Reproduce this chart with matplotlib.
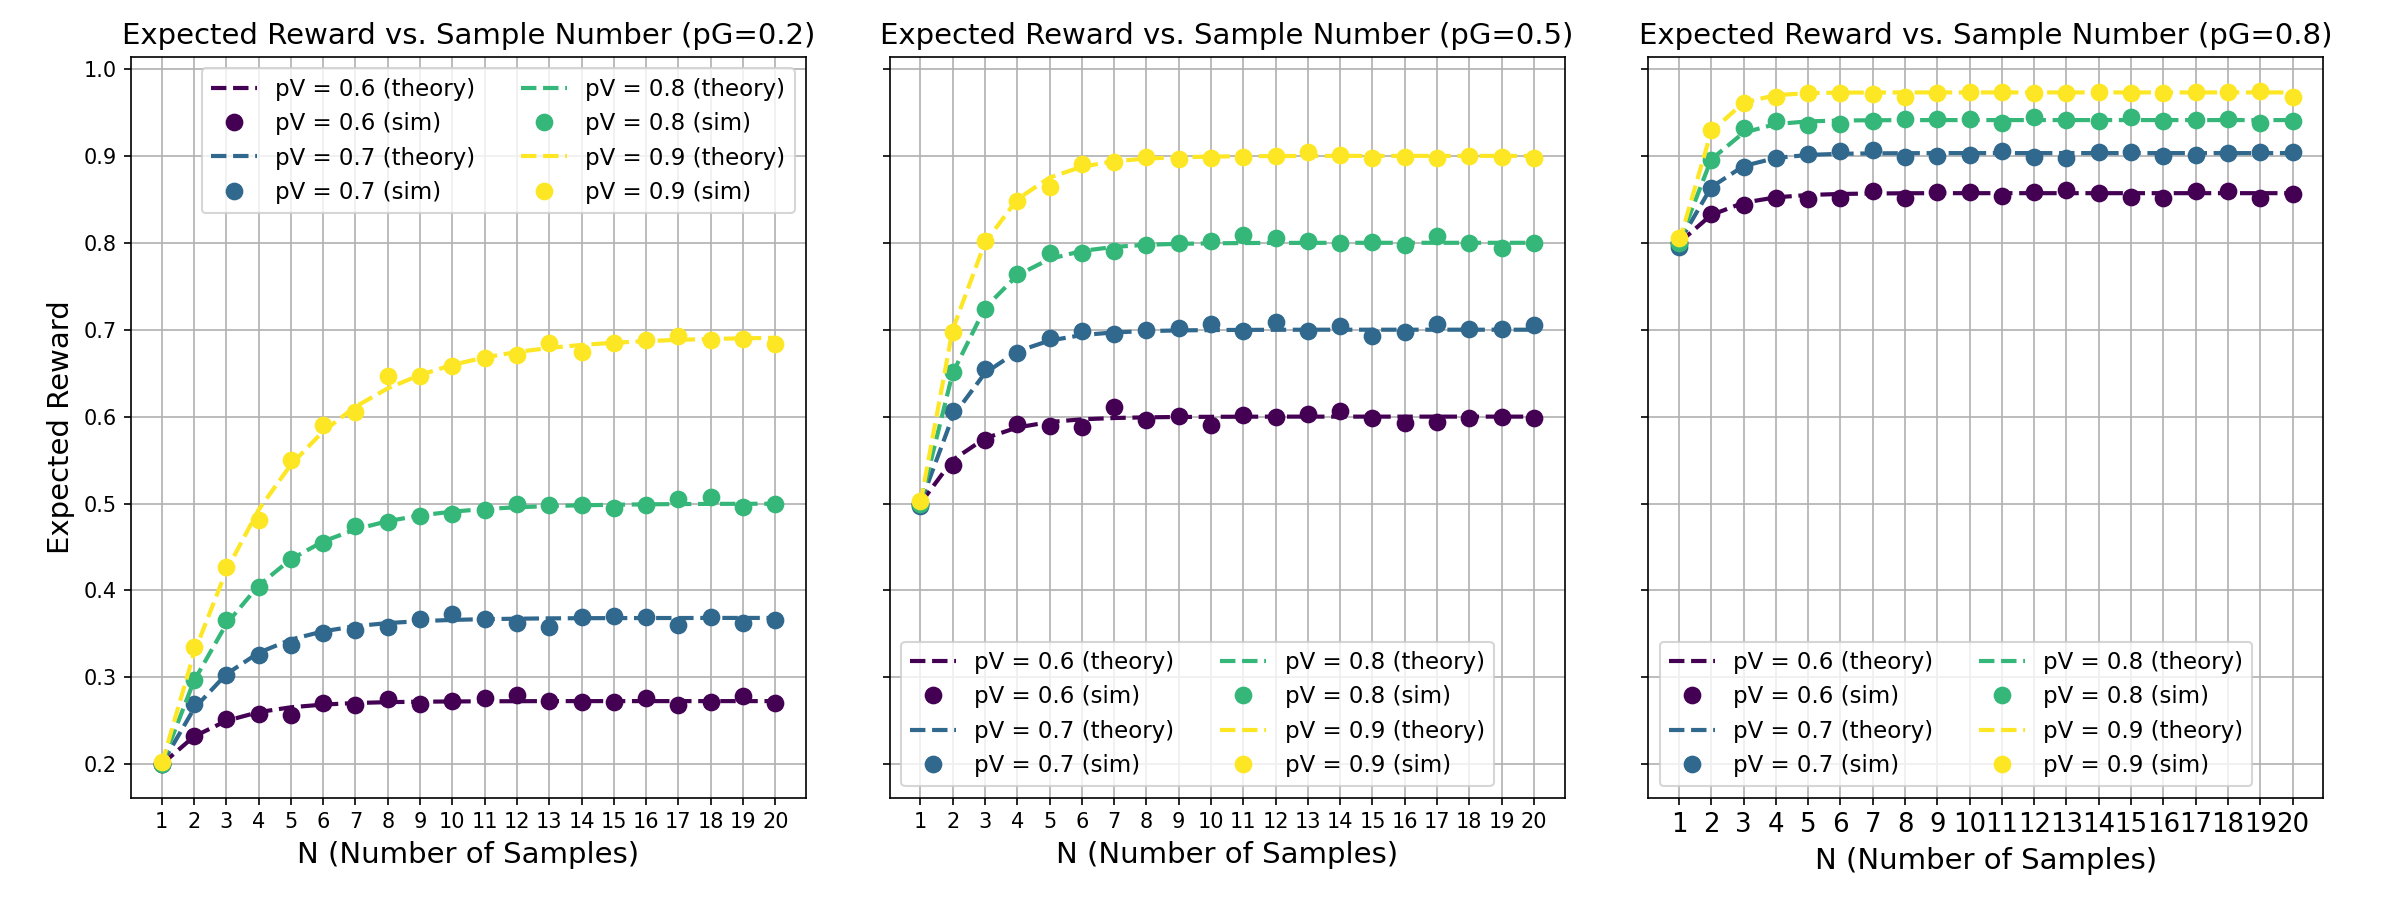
import matplotlib
matplotlib.use("Agg")
import matplotlib.pyplot as plt
import numpy as np

N = list(range(1, 21))
pG_values = [0.2, 0.5, 0.8]
pV_values = [0.6, 0.7, 0.8, 0.9]
colors = ["#440154", "#31688e", "#35b779", "#fde725"]

# ---- pG = 0.2 ----
theory_02_06 = [0.200, 0.232, 0.250, 0.260, 0.2656, 0.2687, 0.2705, 0.2715, 0.2720, 0.2723,
                0.2725, 0.2726, 0.2727, 0.2727, 0.2727, 0.2727, 0.2727, 0.2727, 0.2727, 0.2727]
sim_02_06 = [0.200, 0.232, 0.252, 0.258, 0.257, 0.270, 0.268, 0.275, 0.269, 0.273,
             0.276, 0.280, 0.273, 0.272, 0.272, 0.276, 0.268, 0.272, 0.278, 0.271]
theory_02_07 = [0.200, 0.264, 0.3037, 0.3283, 0.3435, 0.3530, 0.3589, 0.3625, 0.3647, 0.3661,
                0.3670, 0.3675, 0.3679, 0.3681, 0.3682, 0.3683, 0.3683, 0.3684, 0.3684, 0.3684]
sim_02_07 = [0.200, 0.269, 0.303, 0.326, 0.337, 0.351, 0.355, 0.358, 0.367, 0.373,
             0.367, 0.362, 0.358, 0.369, 0.371, 0.369, 0.360, 0.370, 0.363, 0.366]
theory_02_08 = [0.200, 0.296, 0.3613, 0.4057, 0.4359, 0.4564, 0.4703, 0.4798, 0.4863, 0.4907,
                0.4937, 0.4957, 0.4971, 0.4980, 0.4986, 0.4991, 0.4994, 0.4996, 0.4997, 0.4998]
sim_02_08 = [0.200, 0.297, 0.366, 0.404, 0.436, 0.455, 0.474, 0.479, 0.486, 0.488,
             0.493, 0.500, 0.498, 0.498, 0.495, 0.498, 0.505, 0.508, 0.496, 0.499]
theory_02_09 = [0.200, 0.328, 0.4227, 0.4928, 0.5447, 0.5831, 0.6115, 0.6325, 0.6480, 0.6595,
                0.6681, 0.6744, 0.6790, 0.6825, 0.6850, 0.6869, 0.6883, 0.6894, 0.6901, 0.6907]
sim_02_09 = [0.203, 0.335, 0.427, 0.481, 0.550, 0.590, 0.605, 0.647, 0.647, 0.658,
             0.667, 0.671, 0.685, 0.674, 0.685, 0.688, 0.693, 0.688, 0.689, 0.683]

# ---- pG = 0.5 ----
theory_05_06 = [0.500, 0.550, 0.575, 0.5875, 0.5938, 0.5969, 0.5984, 0.5992, 0.5996, 0.5998,
                0.5999, 0.6000, 0.6000, 0.6000, 0.6000, 0.6000, 0.6000, 0.6000, 0.6000, 0.6000]
sim_05_06 = [0.500, 0.544, 0.573, 0.592, 0.589, 0.588, 0.611, 0.596, 0.601, 0.590,
             0.602, 0.599, 0.603, 0.606, 0.598, 0.593, 0.594, 0.598, 0.599, 0.598]
theory_05_07 = [0.500, 0.600, 0.650, 0.675, 0.6875, 0.6938, 0.6969, 0.6984, 0.6992, 0.6996,
                0.6998, 0.6999, 0.7000, 0.7000, 0.7000, 0.7000, 0.7000, 0.7000, 0.7000, 0.7000]
sim_05_07 = [0.497, 0.606, 0.655, 0.673, 0.690, 0.698, 0.695, 0.700, 0.702, 0.707,
             0.699, 0.709, 0.699, 0.704, 0.693, 0.697, 0.706, 0.701, 0.701, 0.705]
theory_05_08 = [0.500, 0.650, 0.725, 0.7625, 0.7813, 0.7906, 0.7953, 0.7977, 0.7988, 0.7994,
                0.7997, 0.7999, 0.7999, 0.8000, 0.8000, 0.8000, 0.8000, 0.8000, 0.8000, 0.8000]
sim_05_08 = [0.500, 0.651, 0.724, 0.764, 0.788, 0.788, 0.791, 0.797, 0.800, 0.802,
             0.809, 0.805, 0.802, 0.800, 0.801, 0.798, 0.808, 0.800, 0.794, 0.800]
theory_05_09 = [0.500, 0.700, 0.800, 0.850, 0.875, 0.8875, 0.8938, 0.8969, 0.8984, 0.8992,
                0.8996, 0.8998, 0.8999, 0.9000, 0.9000, 0.9000, 0.9000, 0.9000, 0.9000, 0.9000]
sim_05_09 = [0.503, 0.697, 0.802, 0.848, 0.864, 0.891, 0.893, 0.899, 0.896, 0.898,
             0.899, 0.900, 0.905, 0.901, 0.898, 0.899, 0.898, 0.900, 0.899, 0.898]

# ---- pG = 0.8 ----
theory_08_06 = [0.800, 0.832, 0.8461, 0.8523, 0.8550, 0.8562, 0.8567, 0.8570, 0.8571, 0.8571,
                0.8571, 0.8571, 0.8571, 0.8571, 0.8571, 0.8571, 0.8571, 0.8571, 0.8571, 0.8571]
sim_08_06 = [0.800, 0.833, 0.843, 0.852, 0.850, 0.852, 0.860, 0.851, 0.859, 0.859,
             0.854, 0.858, 0.861, 0.857, 0.853, 0.852, 0.860, 0.860, 0.852, 0.856]
theory_08_07 = [0.800, 0.864, 0.8883, 0.8976, 0.9011, 0.9024, 0.9029, 0.9031, 0.9032, 0.9032,
                0.9032, 0.9032, 0.9032, 0.9032, 0.9032, 0.9032, 0.9032, 0.9032, 0.9032, 0.9032]
sim_08_07 = [0.795, 0.863, 0.887, 0.897, 0.902, 0.906, 0.907, 0.899, 0.900, 0.901,
             0.906, 0.899, 0.898, 0.904, 0.904, 0.900, 0.901, 0.903, 0.905, 0.905]
theory_08_08 = [0.800, 0.896, 0.9267, 0.9366, 0.9397, 0.9407, 0.9410, 0.9411, 0.9412, 0.9412,
                0.9412, 0.9412, 0.9412, 0.9412, 0.9412, 0.9412, 0.9412, 0.9412, 0.9412, 0.9412]
sim_08_08 = [0.800, 0.895, 0.932, 0.940, 0.936, 0.937, 0.940, 0.943, 0.943, 0.943,
             0.938, 0.945, 0.941, 0.940, 0.945, 0.940, 0.941, 0.943, 0.938, 0.940]
theory_08_09 = [0.800, 0.928, 0.9613, 0.9699, 0.9722, 0.9728, 0.9729, 0.9730, 0.9730, 0.9730,
                0.9730, 0.9730, 0.9730, 0.9730, 0.9730, 0.9730, 0.9730, 0.9730, 0.9730, 0.9730]
sim_08_09 = [0.806, 0.930, 0.961, 0.968, 0.972, 0.972, 0.971, 0.968, 0.972, 0.974,
             0.974, 0.972, 0.972, 0.974, 0.972, 0.972, 0.974, 0.974, 0.975, 0.968]

theory = {
    0.2: [theory_02_06, theory_02_07, theory_02_08, theory_02_09],
    0.5: [theory_05_06, theory_05_07, theory_05_08, theory_05_09],
    0.8: [theory_08_06, theory_08_07, theory_08_08, theory_08_09],
}
sims = {
    0.2: [sim_02_06, sim_02_07, sim_02_08, sim_02_09],
    0.5: [sim_05_06, sim_05_07, sim_05_08, sim_05_09],
    0.8: [sim_08_06, sim_08_07, sim_08_08, sim_08_09],
}
legend_locs = ["upper right", "lower left", "lower left"]
xtick_sizes = [10, 10, 12.5]

fig, axes = plt.subplots(1, 3, figsize=(16, 6), dpi=150, sharey=True)
fig.subplots_adjust(left=0.0546, right=0.968, top=0.9367, bottom=0.1137, wspace=0.124)

for ax, pG, loc, xts in zip(axes, pG_values, legend_locs, xtick_sizes):
    for pV, c, th, sm in zip(pV_values, colors, theory[pG], sims[pG]):
        ax.plot(N, th, linestyle="--", color=c, linewidth=2, label=f"pV = {pV} (theory)")
        ax.plot(N, sm, linestyle="none", marker="o", markersize=7.5, color=c,
                label=f"pV = {pV} (sim)")
    ax.set_title(f"Expected Reward vs. Sample Number (pG={pG})", fontsize=14)
    ax.set_xlabel("N (Number of Samples)", fontsize=14)
    ax.set_xticks(N)
    ax.tick_params(axis="y", labelsize=10)
    ax.tick_params(axis="x", labelsize=xts)
    ax.grid(True)
    ax.legend(loc=loc, ncol=2, fontsize=11)

axes[0].set_ylabel("Expected Reward", fontsize=14)
axes[0].set_ylim(0.1616, 1.0138)
axes[0].set_yticks([0.2, 0.3, 0.4, 0.5, 0.6, 0.7, 0.8, 0.9, 1.0])

fig.savefig("out.png", dpi=150)
